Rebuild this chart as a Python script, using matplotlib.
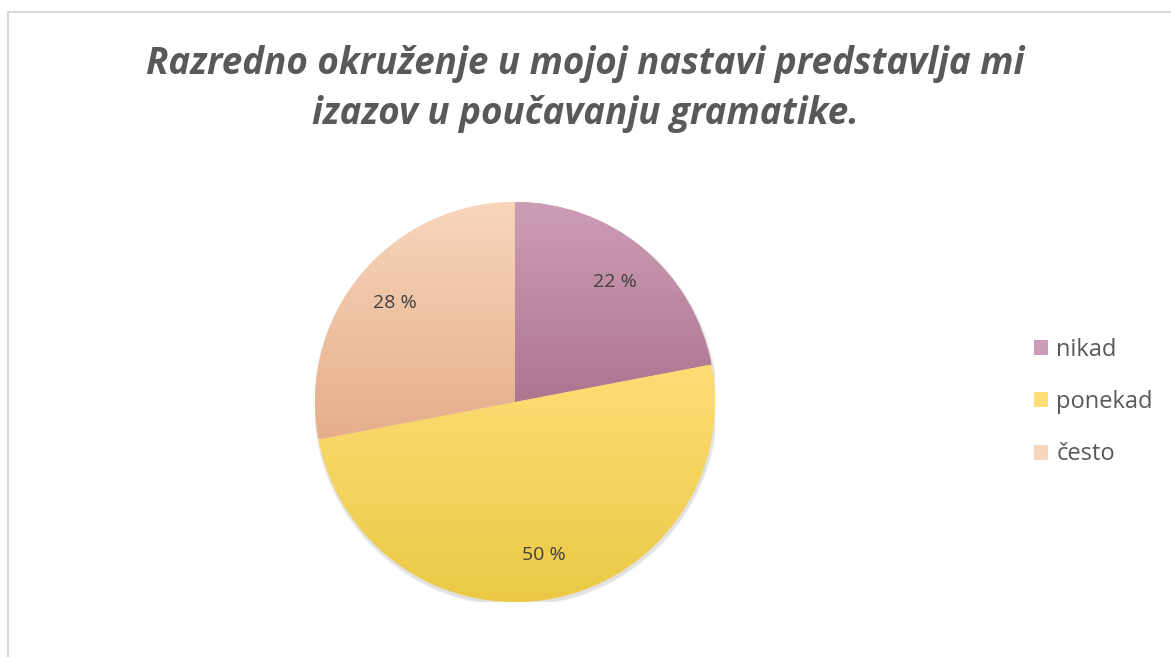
import matplotlib.pyplot as plt
import matplotlib.patches as patches
import numpy as np
from matplotlib.colors import LinearSegmentedColormap

# data
labels = ['nikad', 'ponekad', 'često']
values = [22, 50, 28]
top_colors = ['#CD9DB5', '#FEDD76', '#F8D6BC']
bottom_colors = ['#AE7590', '#EBC946', '#E5AE8A']
title = 'Razredno okruženje u mojoj nastavi predstavlja mi\nizazov u poučavanju gramatike.'

plt.rcParams['font.family'] = ['Open Sans', 'DejaVu Sans']

fig = plt.figure(figsize=(11.71, 6.57), dpi=100)
fig.patch.set_facecolor('white')

# chart border
fig.patches.append(patches.Rectangle((8 / 1171, -0.1), 1.2, 1.1 - 12 / 657,
                                     transform=fig.transFigure, fill=False,
                                     edgecolor='#D9D9D9', linewidth=1.5))

# pie axes: center ~ (515, 402), radius ~200 px
cx, cy, r = 515, 402, 200
ax = fig.add_axes([(cx - r) / 1171, (657 - cy - r) / 657, 2 * r / 1171, 2 * r / 657])

# soft shadow
for k, a in [(4, 0.06), (3, 0.08), (2, 0.10)]:
    ax.add_patch(patches.Circle((0.004, -0.012), 1 + k * 0.003, color='#808080',
                                alpha=a, zorder=0, lw=0))

wedges, texts, autotexts = ax.pie(values, startangle=90, counterclock=False,
                                  colors=top_colors, autopct='%d %%',
                                  pctdistance=0.78, radius=1,
                                  wedgeprops=dict(linewidth=0),
                                  textprops=dict(fontsize=14, color='#404040'))

# vertical gradient inside each slice
for w, c0, c1 in zip(wedges, top_colors, bottom_colors):
    ext = w.get_path().get_extents()
    cmap = LinearSegmentedColormap.from_list('g', [c1, c0])
    grad = np.linspace(0, 1, 256).reshape(-1, 1)
    im = ax.imshow(grad, cmap=cmap, origin='lower', aspect='auto',
                   extent=[ext.x0, ext.x1, ext.y0, ext.y1], zorder=1.5)
    im.set_clip_path(w)
    w.set_zorder(1)
for t in autotexts:
    t.set_zorder(3)

ax.set_xlim(-1, 1)
ax.set_ylim(-1, 1)
ax.set_aspect('equal')
ax.axis('off')

fig.text(0.5, 1 - 89 / 657, title, ha='center', va='center', fontsize=26.5,
         fontweight='bold', fontstyle='italic', color='#595959', linespacing=1.4)

handles = [patches.Patch(facecolor=c, edgecolor='none') for c in top_colors]
fig.legend(handles, labels, loc='center left', bbox_to_anchor=(1034 / 1171, 1 - 402 / 657),
           frameon=False, fontsize=17, labelcolor='#595959', handlelength=0.6,
           handleheight=0.6, handletextpad=0.35, labelspacing=1.2,
           borderaxespad=0, borderpad=0)

fig.savefig('out.png', dpi=100)
